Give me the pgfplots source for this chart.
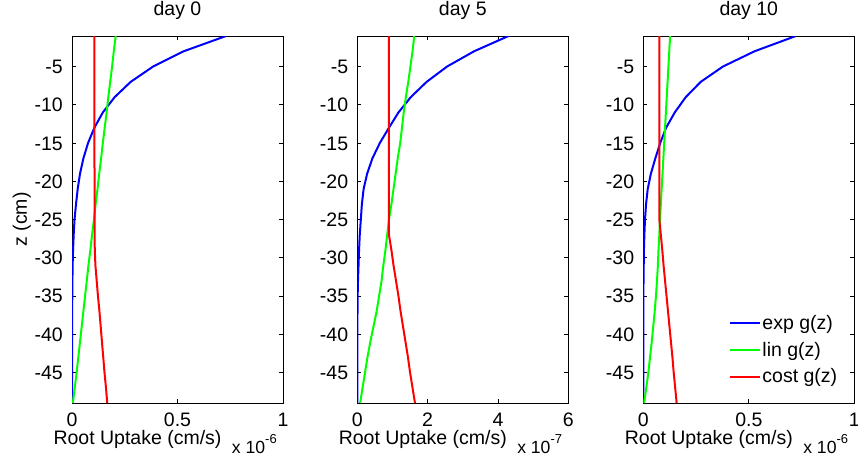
\documentclass[border=0pt]{standalone}
\usepackage{fontspec}
\setmainfont{Liberation Sans}
\usepackage{pgfplots}
\pgfplotsset{compat=1.18}

\newcommand\figfont{\fontsize{19.5pt}{23pt}\selectfont}
\newcommand\expfont{\fontsize{17.6pt}{20pt}\selectfont}
\newcommand\supfont{\fontsize{13pt}{15pt}\selectfont}

\definecolor{mblue}{RGB}{0,0,255}
\definecolor{mgreen}{RGB}{0,255,0}
\definecolor{mred}{RGB}{255,0,0}

% depth z (cm) against root uptake; x values in units of the axis multiplier
\pgfplotstableread{
z     expg    ling    costg
-1    0.730   0.207   0.106
-3    0.529   0.198   0.106
-5    0.384   0.190   0.106
-7    0.278   0.181   0.106
-9    0.202   0.172   0.106
-11   0.146   0.164   0.106
-13   0.106   0.155   0.106
-15   0.076   0.146   0.106
-17   0.054   0.138   0.106
-19   0.038   0.129   0.107
-21   0.027   0.121   0.107
-23   0.019   0.112   0.107
-25   0.012   0.104   0.107
-27   0.008   0.095   0.107
-29   0.005   0.087   0.108
-31   0.003   0.078   0.111
-33   0.002   0.070   0.117
-35   0.0013  0.062   0.123
-37   0.0008  0.054   0.130
-39   0.0005  0.046   0.136
-41   0.0003  0.038   0.142
-43   0.0002  0.030   0.148
-45   0.0001  0.022   0.154
-47   0.0001  0.013   0.161
-49   0.0000  0.004   0.167
}\dayzero

\pgfplotstableread{
z     expg    ling    costg
-1    4.30    1.62    0.90
-3    3.32    1.57    0.90
-5    2.55    1.51    0.90
-7    1.97    1.45    0.90
-9    1.52    1.38    0.90
-11   1.17    1.32    0.90
-13   0.90    1.27    0.90
-15   0.64    1.22    0.90
-17   0.43    1.15    0.90
-19   0.28    1.09    0.90
-21   0.18    1.03    0.90
-23   0.13    0.97    0.90
-25   0.10    0.90    0.90
-27   0.07    0.85    0.90
-29   0.05    0.80    0.97
-31   0.035   0.74    1.03
-33   0.02    0.69    1.10
-35   0.01    0.62    1.17
-37   0.006   0.55    1.23
-39   0.003   0.46    1.30
-41   0.002   0.37    1.37
-43   0.001   0.29    1.44
-45   0.000   0.22    1.50
-47   0.000   0.15    1.57
-49   0.000   0.08    1.64
}\dayfive

\pgfplotstableread{
z     expg    ling    costg
-1    0.723   0.127   0.076
-3    0.527   0.123   0.076
-5    0.377   0.119   0.076
-7    0.272   0.115   0.076
-9    0.201   0.111   0.076
-11   0.149   0.107   0.076
-13   0.108   0.103   0.076
-15   0.080   0.099   0.076
-17   0.057   0.095   0.076
-19   0.036   0.091   0.076
-21   0.021   0.087   0.076
-23   0.013   0.083   0.076
-25   0.008   0.079   0.076
-27   0.005   0.076   0.083
-29   0.003   0.072   0.090
-31   0.002   0.069   0.096
-33   0.001   0.065   0.103
-35   0.0005  0.060   0.110
-37   0.0003  0.054   0.117
-39   0.0002  0.047   0.124
-41   0.0001  0.040   0.131
-43   0.0000  0.032   0.138
-45   0.0000  0.024   0.144
-47   0.0000  0.014   0.151
-49   0.0000  0.004   0.158
}\dayten

\pgfplotsset{
  rootpanel/.style={
    scale only axis, width=211pt, height=367pt,
    anchor=north west,
    ymin=-49, ymax=-1,
    ytick={-45,-40,...,-5},
    yticklabels={-45,-40,-35,-30,-25,-20,-15,-10,-5},
    tick align=inside,
    major tick length=4pt,
    axis line style={line width=0.8pt},
    every tick/.style={black, line width=0.8pt},
    ticklabel style={font=\figfont},
    yticklabel style={anchor=base east, inner sep=0pt, xshift=-9pt, yshift=-7pt},
    xticklabel style={anchor=base, inner sep=0pt, yshift=-23pt},
    title style={font=\figfont, at={(0.5,1)}, anchor=base, inner sep=0pt, yshift=14.3pt},
    xlabel={Root Uptake (cm/s)},
    xlabel style={font=\figfont, at={(axis description cs:0.5,0)}, anchor=base,
      inner sep=0pt, xshift=-40pt, yshift=-41pt},
    scaled ticks=false,
    every axis plot/.append style={line width=2pt},
  }
}

\begin{document}
\begin{tikzpicture}
\useasboundingbox (0pt,0pt) rectangle (858pt,-461pt);

\begin{axis}[rootpanel, name=ax1, at={(72pt,-36pt)},
  xmin=0, xmax=1, xtick={0,0.5,1}, xticklabels={0,0.5,1},
  title={day 0},
  ylabel={z (cm)},
  ylabel style={font=\figfont, at={(axis description cs:-0.2133,0.5)},
    anchor=base, inner sep=0pt}]
  \addplot[mblue]  table[x=expg,  y=z] {\dayzero};
  \addplot[mgreen] table[x=ling,  y=z] {\dayzero};
  \addplot[mred]   table[x=costg, y=z] {\dayzero};
\end{axis}
\node[anchor=base east, inner sep=0pt, font=\expfont]
  at ([xshift=-6pt, yshift=-50pt]ax1.south east)
  {x 10\raisebox{10pt}{\supfont -6}};

\begin{axis}[rootpanel, name=ax2, at={(357.3pt,-36pt)},
  xmin=0, xmax=6, xtick={0,2,4,6}, xticklabels={0,2,4,6},
  title={day 5}]
  \addplot[mblue]  table[x=expg,  y=z] {\dayfive};
  \addplot[mgreen] table[x=ling,  y=z] {\dayfive};
  \addplot[mred]   table[x=costg, y=z] {\dayfive};
\end{axis}
\node[anchor=base east, inner sep=0pt, font=\expfont]
  at ([xshift=-6pt, yshift=-50pt]ax2.south east)
  {x 10\raisebox{10pt}{\supfont -7}};

\begin{axis}[rootpanel, name=ax3, at={(643.3pt,-36pt)},
  xmin=0, xmax=1, xtick={0,0.5,1}, xticklabels={0,0.5,1},
  title={day 10},
  legend cell align=left,
  legend image code/.code={\draw[#1, line width=2pt] (0pt,0pt) -- (30pt,0pt);},
  legend style={at={(rel axis cs:0.405,0.243)}, anchor=north west, draw=none,
    fill=none, inner sep=0pt, font=\figfont, row sep=8pt,
    nodes={inner sep=1.5pt}}]
  \addplot[mblue]  table[x=expg,  y=z] {\dayten};
  \addplot[mgreen] table[x=ling,  y=z] {\dayten};
  \addplot[mred]   table[x=costg, y=z] {\dayten};
  \legend{exp g(z), lin g(z), cost g(z)}
\end{axis}
\node[anchor=base east, inner sep=0pt, font=\expfont]
  at ([xshift=-6pt, yshift=-50pt]ax3.south east)
  {x 10\raisebox{10pt}{\supfont -6}};
\end{tikzpicture}
\end{document}
